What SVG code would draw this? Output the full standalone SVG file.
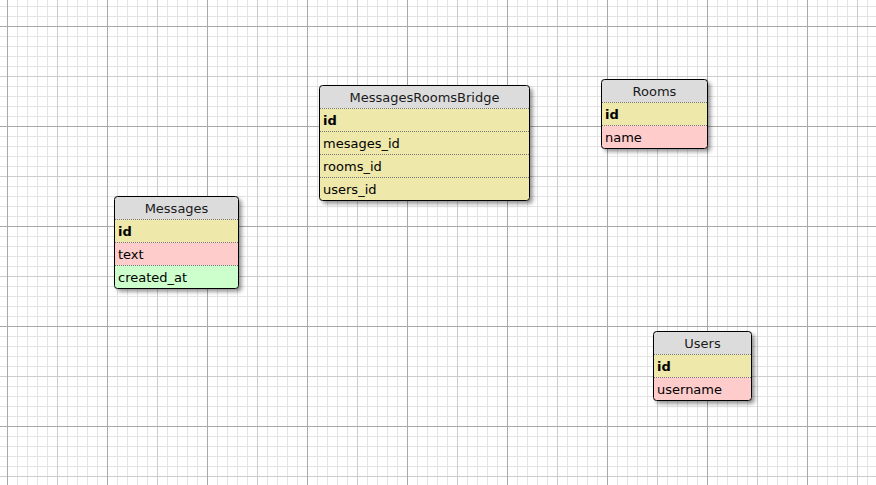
<svg xmlns="http://www.w3.org/2000/svg" width="876" height="485" viewBox="0 0 876 485">
<defs>
<pattern id="gMinor" patternUnits="userSpaceOnUse" x="7" y="6" width="10" height="10">
<path d="M0.5 0V10M0 0.5H10" stroke="#e4e4e4" stroke-width="1" fill="none"/>
</pattern>
<pattern id="gMid" patternUnits="userSpaceOnUse" x="7" y="26" width="50" height="50">
<path d="M0.5 0V50M0 0.5H50" stroke="#cccccc" stroke-width="1" fill="none"/>
</pattern>
<pattern id="gMajor" patternUnits="userSpaceOnUse" x="7" y="26" width="100" height="100">
<path d="M0.5 0V100M0 0.5H100" stroke="#a9a9a9" stroke-width="1" fill="none"/>
</pattern>
<filter id="shadow" x="-20%" y="-20%" width="140%" height="140%">
<feDropShadow dx="3" dy="3" stdDeviation="2" flood-color="#000" flood-opacity="0.45"/>
</filter>
<clipPath id="cBridge"><rect x="319.5" y="85.5" width="210" height="115" rx="3"/></clipPath>
<clipPath id="cMessages"><rect x="114.5" y="196.5" width="124" height="92" rx="3"/></clipPath>
<clipPath id="cRooms"><rect x="601.5" y="79.5" width="106" height="69" rx="3"/></clipPath>
<clipPath id="cUsers"><rect x="653.5" y="331.5" width="98" height="69" rx="3"/></clipPath>
</defs>
<style>
text { font-family: "DejaVu Sans", Verdana, sans-serif; font-size: 13px; fill: #000; }
.hdr { fill: #dcdcdc; }
.title { text-anchor: middle; fill: #1a1a1a; }
.key { font-weight: bold; }
.y { fill: #eee8aa; }
.r { fill: #ffcccc; }
.g { fill: #ccffcc; }
.sep { stroke: #777; stroke-width: 1; stroke-dasharray: 1 1; fill: none; }
.frame { fill: none; stroke: #000; stroke-width: 1; }
.shadowbox { fill: #fff; filter: url(#shadow); }
</style>
<rect width="876" height="485" fill="#fff"/>
<rect width="876" height="485" fill="url(#gMinor)"/>
<rect width="876" height="485" fill="url(#gMid)"/>
<rect width="876" height="485" fill="url(#gMajor)"/>

<g id="connectors"></g>

<g id="MessagesRoomsBridge">
<rect class="shadowbox" x="319.5" y="85.5" width="210" height="115" rx="3"/>
<g clip-path="url(#cBridge)">
<rect class="hdr" x="319.5" y="85.5" width="210" height="23"/>
<rect class="y" x="319.5" y="108.5" width="210" height="92"/>
</g>
<path class="sep" d="M320 108.5H529M320 131.5H529M320 154.5H529M320 177.5H529"/>
<rect class="frame" x="319.5" y="85.5" width="210" height="115" rx="3"/>
<text class="title" x="424.5" y="102">MessagesRoomsBridge</text>
<text class="key" x="323" y="125">id</text>
<text x="323" y="148">mesages_id</text>
<text x="323" y="171">rooms_id</text>
<text x="323" y="194">users_id</text>
</g>

<g id="Messages">
<rect class="shadowbox" x="114.5" y="196.5" width="124" height="92" rx="3"/>
<g clip-path="url(#cMessages)">
<rect class="hdr" x="114.5" y="196.5" width="124" height="23"/>
<rect class="y" x="114.5" y="219.5" width="124" height="23"/>
<rect class="r" x="114.5" y="242.5" width="124" height="23"/>
<rect class="g" x="114.5" y="265.5" width="124" height="23"/>
</g>
<path class="sep" d="M115 219.5H238M115 242.5H238M115 265.5H238"/>
<rect class="frame" x="114.5" y="196.5" width="124" height="92" rx="3"/>
<text class="title" x="176.5" y="213">Messages</text>
<text class="key" x="118" y="236">id</text>
<text x="118" y="259">text</text>
<text x="118" y="282">created_at</text>
</g>

<g id="Rooms">
<rect class="shadowbox" x="601.5" y="79.5" width="106" height="69" rx="3"/>
<g clip-path="url(#cRooms)">
<rect class="hdr" x="601.5" y="79.5" width="106" height="23"/>
<rect class="y" x="601.5" y="102.5" width="106" height="23"/>
<rect class="r" x="601.5" y="125.5" width="106" height="23"/>
</g>
<path class="sep" d="M602 102.5H707M602 125.5H707"/>
<rect class="frame" x="601.5" y="79.5" width="106" height="69" rx="3"/>
<text class="title" x="654.5" y="96">Rooms</text>
<text class="key" x="605" y="119">id</text>
<text x="605" y="142">name</text>
</g>

<g id="Users">
<rect class="shadowbox" x="653.5" y="331.5" width="98" height="69" rx="3"/>
<g clip-path="url(#cUsers)">
<rect class="hdr" x="653.5" y="331.5" width="98" height="23"/>
<rect class="y" x="653.5" y="354.5" width="98" height="23"/>
<rect class="r" x="653.5" y="377.5" width="98" height="23"/>
</g>
<path class="sep" d="M654 354.5H751M654 377.5H751"/>
<rect class="frame" x="653.5" y="331.5" width="98" height="69" rx="3"/>
<text class="title" x="702.5" y="348">Users</text>
<text class="key" x="657" y="371">id</text>
<text x="657" y="394">username</text>
</g>
</svg>
